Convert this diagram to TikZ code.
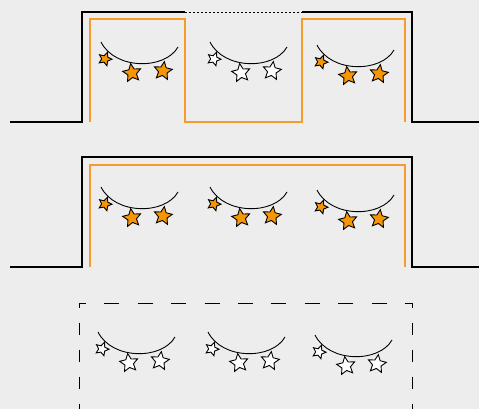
\documentclass[tikz,border=0pt]{standalone}
\usetikzlibrary{shapes.geometric}
\definecolor{panelgray}{RGB}{237,237,237}
\definecolor{lineorange}{RGB}{247,156,40}
\definecolor{starorange}{RGB}{245,150,5}
\tikzset{
  wall/.style={line width=1.3pt, black},
  wall gap/.style={line width=0.9pt, black, dash pattern=on 2pt off 2pt},
  liner/.style={line width=1.3pt, lineorange},
  fence across/.style={line width=1pt, black, dash pattern=on 15pt off 18.4pt, dash phase=8pt},
  fence down/.style={line width=1pt, black, dash pattern=on 12.5pt off 14.5pt, dash phase=7.5pt},
  string/.style={line width=0.9pt},
  starbit/.style={star, star points=5, star point ratio=2.1, draw=black,
    line width=0.9pt, inner sep=0pt},
  pics/garland/.style={code={
    \coordinate (-a) at (-39,-11);
    \coordinate (-b) at (38,-6);
    \draw[string] (-a) .. controls (-25,17) and (25,17) .. (-b);
    \node[starbit, fill=#1, minimum size=14pt, rotate=-20] (-s1) at (-35,6) {};
    \node[starbit, fill=#1, minimum size=19pt, rotate=8] (-s2) at (-8,20) {};
    \node[starbit, fill=#1, minimum size=19pt, rotate=-8] (-s3) at (23,18) {};
  }},
}

\begin{document}
\begin{tikzpicture}[x=1pt, y=-1pt]

  \fill[panelgray] (0,0) rectangle (479,409);
  \useasboundingbox (0,0) rectangle (479,409);

  % Top panel
  \draw[wall] (10,122) -- (82,122) -- (82,12) -- (185,12);
  \draw[wall gap] (185,12) -- (302,12);
  \draw[wall] (302,12) -- (412,12) -- (412,122) -- (479,122);
  \draw[liner] (90,122) -- (90,19) -- (185,19) -- (185,122)
    -- (302,122) -- (302,19) -- (405,19) -- (405,122);
  \pic (g11) at (140,53) {garland=starorange};
  \pic (g12) at (249,53) {garland=white};
  \pic (g13) at (356,56) {garland=starorange};

  % Middle panel
  \draw[wall] (10,267) -- (82,267) -- (82,157) -- (412,157) -- (412,267) -- (479,267);
  \draw[liner] (90,267) -- (90,165) -- (405,165) -- (405,267);
  \pic (g21) at (140,198) {garland=starorange};
  \pic (g22) at (249,198) {garland=starorange};
  \pic (g23) at (356,201) {garland=starorange};

  % Bottom panel
  \draw[fence across] (79,303) -- (412,303);
  \draw[fence down] (79,303) -- (79,412);
  \draw[fence down] (412,303) -- (412,412);
  \pic (g31) at (137,343) {garland=white};
  \pic (g32) at (247,343) {garland=white};
  \pic (g33) at (354,346) {garland=white};

\end{tikzpicture}
\end{document}
